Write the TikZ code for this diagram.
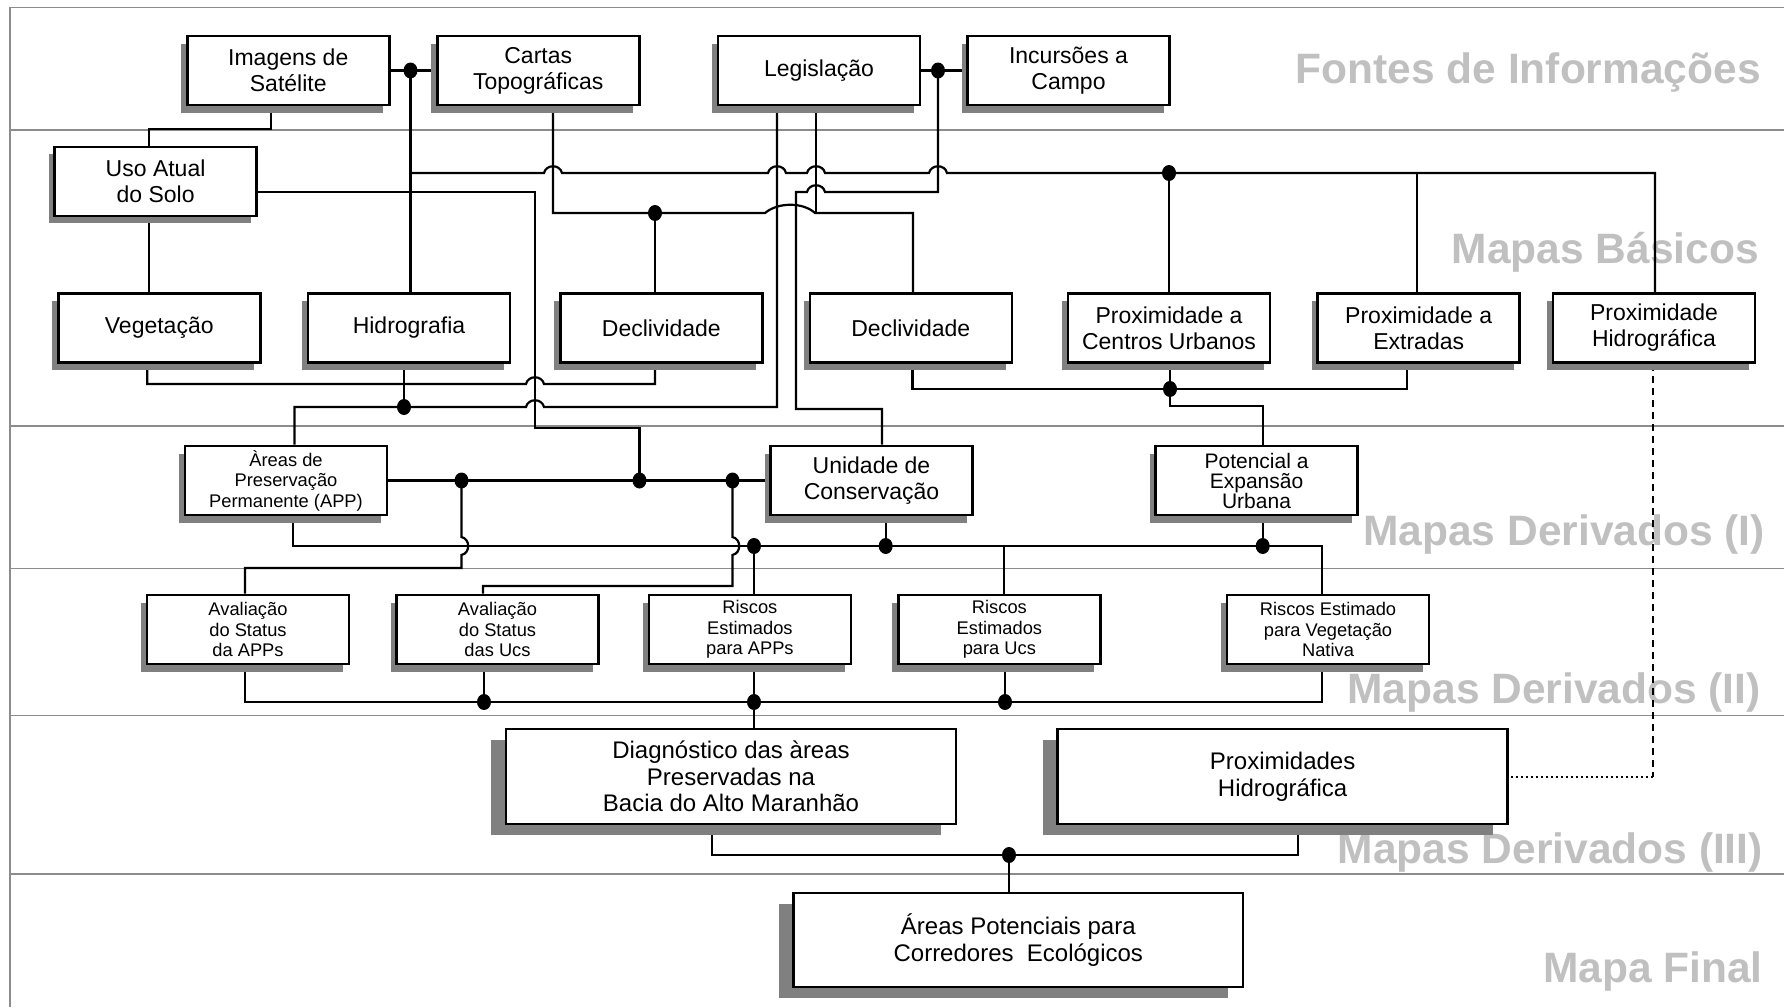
\documentclass[tikz,border=0pt]{standalone}
\usepackage{fontspec}
\setmainfont{Liberation Sans}
\usetikzlibrary{shadows,calc}
\definecolor{shadowgray}{RGB}{128,128,128}
\definecolor{headgray}{RGB}{192,192,192}
\definecolor{bandgray}{RGB}{140,140,140}
\pgfdeclarelayer{bg}\pgfdeclarelayer{conn}\pgfsetlayers{bg,conn,main}
\newcommand\hh[2]{-- ({#1-9},#2) .. controls ({#1-7},{#2-9}) and ({#1+7},{#2-9}) .. ({#1+9},#2)}
\newcommand\vh[2]{-- (#1,{#2-9}) .. controls ({#1+9},{#2-7}) and ({#1+9},{#2+7}) .. (#1,{#2+9})}
\tikzset{
 boxbase/.style={draw=black, line width=2.6pt, fill=white, inner sep=0pt, align=center,
   minimum width=202pt, minimum height=69pt, font=\fontsize{23}{26}\selectfont},
 box/.style={boxbase, drop shadow={shadow xshift=-6pt,shadow yshift=-7.5pt,fill=shadowgray,opacity=1}},
 smallbox/.style={box, font=\fontsize{18.3}{20.5}\selectfont},
 bigbox/.style={boxbase, minimum width=450pt, minimum height=95pt, font=\fontsize{24}{26.7}\selectfont,
   drop shadow={shadow xshift=-15pt,shadow yshift=-10.5pt,fill=shadowgray,opacity=1}},
 conn/.style={line width=2.2pt, line join=miter},
 band/.style={draw=bandgray, line width=1.8pt},
 heading/.style={anchor=base east, text=headgray, font=\fontsize{42.5}{50}\selectfont\bfseries, inner sep=0pt},
}
\begin{document}
\begin{tikzpicture}[x=1pt,y=-1pt]
\useasboundingbox (0,0) rectangle (1784,1007);

% ---------- boxes ----------
\node[box] (img) at (288.25,70.5) {Imagens de\\Satélite};
\node[box] (cartas) at (538.25,70.5) {Cartas\\Topográficas};
\node[box] (leg) at (819,70.5) {Legislação};
\node[box] (inc) at (1068.5,70.5) {Incursões a\\Campo};
\node[box] (uso) at (155.6,181.4) {Uso Atual\\do Solo};
\node[box] (veg) at (159.25,328) {Vegetação};
\node[box] (hid) at (409,328) {Hidrografia};
\node[box] (dec1) at (661.35,328) {Declividade};
\node[box] (dec2) at (910.8,328) {Declividade};
\node[box] (pcu) at (1169,328) {Proximidade a\\Centros Urbanos};
\node[box] (pex) at (1418.7,328) {Proximidade a\\Extradas};
\node[box] (phid) at (1654,328) {Proximidade\\Hidrográfica};
\node[smallbox] (app) at (286,480.5) {Àreas de\\Preservação\\Permanente (APP)};
\node[box, font=\fontsize{23}{26.5}\selectfont] (uc) at (871.5,480.5) {Unidade de\\Conservação};
\node[box, font=\fontsize{21}{20}\selectfont] (peu) at (1256.5,480.5) {Potencial a\\Expansão\\Urbana};
\node[smallbox] (aapp) at (248,629.5) {Avaliação\\do Status\\da APPs};
\node[smallbox] (auc) at (497.5,629.5) {Avaliação\\do Status\\das Ucs};
\node[smallbox] (rapp) at (749.9,629.5) {Riscos\\Estimados\\para APPs};
\node[smallbox] (ruc) at (999.4,629.5) {Riscos\\Estimados\\para Ucs};
\node[smallbox] (rveg) at (1328,629.5) {Riscos Estimado\\para Vegetação\\Nativa};
\node[bigbox] (diag) at (731,776.5) {Diagnóstico das àreas\\Preservadas na\\Bacia do Alto Maranhão};
\node[bigbox] (prox) at (1282.6,776.5) {Proximidades\\Hidrográfica};
\node[bigbox, minimum width=449.4pt, minimum height=94pt] (final) at (1018.3,940) {Áreas Potenciais para\\Corredores\ \ Ecológicos};

% ---------- junctions ----------
\coordinate (d1) at (410.5,70.5);
\coordinate (d2) at (938,70.5);
\coordinate (d3) at (1169,173);
\coordinate (d4) at (655,213);
\coordinate (d5) at (404,407);
\coordinate (d6) at (1170,389);
\coordinate (d7) at (461.5,480.5);
\coordinate (d8) at (639.5,480.5);
\coordinate (d9) at (732.5,480.5);
\coordinate (d10) at (754,546);
\coordinate (d11) at (885.7,546);
\coordinate (d12) at (1262.7,546);
\coordinate (d13) at (484,702);
\coordinate (d14) at (754,702);
\coordinate (d15) at (1005,702);
\coordinate (d16) at (1009,855);

% ---------- bands and headings ----------
\begin{pgfonlayer}{bg}
\draw[band] (1784,7.5) -- (10,7.5) -- (10,1007);
\foreach \y in {130,426,568.5,715.5,874} \draw[band] (10,\y) -- (1784,\y);
\node[heading] (h1) at (1761,83) {Fontes de Informações};
\node[heading] (h2) at (1759,263) {Mapas Básicos};
\node[heading] (h3) at (1765,545) {Mapas Derivados (I)};
\node[heading] (h4) at (1761,703) {Mapas Derivados (II)};
\node[heading] (h5) at (1763,863) {Mapas Derivados (III)};
\node[heading] (h6) at (1763,982) {Mapa Final};
\end{pgfonlayer}

% ---------- connectors ----------
\begin{pgfonlayer}{conn}
\draw[conn] (img.east) -- (cartas.west);
\draw[conn] (leg.east) -- (inc.west);
\draw[conn] (271,0 |- img.south) -- (271,129) -| (148.7,0 |- uso.north);
\draw[conn] (148.7,0 |- uso.south) -- (148.7,0 |- veg.north);
\draw[conn] (d1) -- (d1 |- hid.north);
\draw[conn] (410.5,173) \hh{553}{173} \hh{777}{173} \hh{816}{173} \hh{938}{173} -- (1655,173) -- (1655,0 |- phid.north);
\draw[conn] (d3) -- (d3 |- pcu.north);
\draw[conn] (1417,173) -- (1417,0 |- pex.north);
\draw[conn] (553,0 |- cartas.south) |- (d4) -- (765,213) .. controls (778,202) and (803,202) .. (815,213) -- (913,213) -- (913,0 |- dec2.north);
\draw[conn] (d4) -- (d4 |- dec1.north);
\draw[conn] (816,0 |- leg.south) -- (816,213);
\draw[conn] (294.5,0 |- app.north) -- (294.5,407) \hh{535}{407} -- (777,407) -- (777,0 |- leg.south);
\draw[conn] (882,0 |- uc.north) -- (882,409) -- (796,409) -- (796,192) \hh{816}{192} -- (938,192) -- (d2);
\draw[conn] (uso.east |- 0,192.3) -- (535,192.3) -- (535,428) -- (639.5,428) -- (d8);
\draw[conn] (147.3,0 |- veg.south) -- (147.3,384) \hh{535}{384} -- (655,384) -- (655,0 |- dec1.south);
\draw[conn] (404,0 |- hid.south) -- (d5);
\draw[conn] (912.5,0 |- dec2.south) -- (912.5,389) -- (1407,389) -- (1407,0 |- pex.south);
\draw[conn] (d6 |- pcu.south) -- (d6) -- (1170,406) -- (1262.7,406) -- (1262.7,0 |- peu.north);
\draw[conn] (app.east) -- (uc.west);
\draw[conn] (d7) \vh{461.5}{546} -- (461.5,568) -- (245,568) -- (245,0 |- aapp.north);
\draw[conn] (d9) \vh{732.5}{546} -- (732.5,586) -- (483,586) -- (483,0 |- auc.north);
\draw[conn] (293,0 |- app.south) -- (293,546) -- (1322,546) -- (1322,0 |- rveg.north);
\draw[conn] (d10) -- (d10 |- rapp.north);
\draw[conn] (d11) -- (d11 |- uc.south);
\draw[conn] (d12) -- (d12 |- peu.south);
\draw[conn] (1003.7,546) -- (1003.7,0 |- ruc.north);
\draw[conn] (245,0 |- aapp.south) -- (245,702) -- (1322,702) -- (1322,0 |- rveg.south);
\draw[conn] (d13) -- (d13 |- auc.south);
\draw[conn] (d14 |- rapp.south) -- (d14 |- diag.north);
\draw[conn] (d15) -- (d15 |- ruc.south);
\draw[conn] (711.6,0 |- diag.south) -- (711.6,855) -- (1297.6,855) -- (1297.6,0 |- prox.south);
\draw[conn] (d16) -- (d16 |- final.north);
\draw[line width=2pt, dash pattern=on 7pt off 5pt] (1652.8,0 |- phid.south) -- (1652.8,776.5);
\draw[line width=2pt, dash pattern=on 2pt off 3pt] (1652.8,776.5) -- (prox.east);
\foreach \i in {1,...,16} \fill (d\i) ellipse[x radius=7pt, y radius=8pt];
\end{pgfonlayer}
\end{tikzpicture}
\end{document}
